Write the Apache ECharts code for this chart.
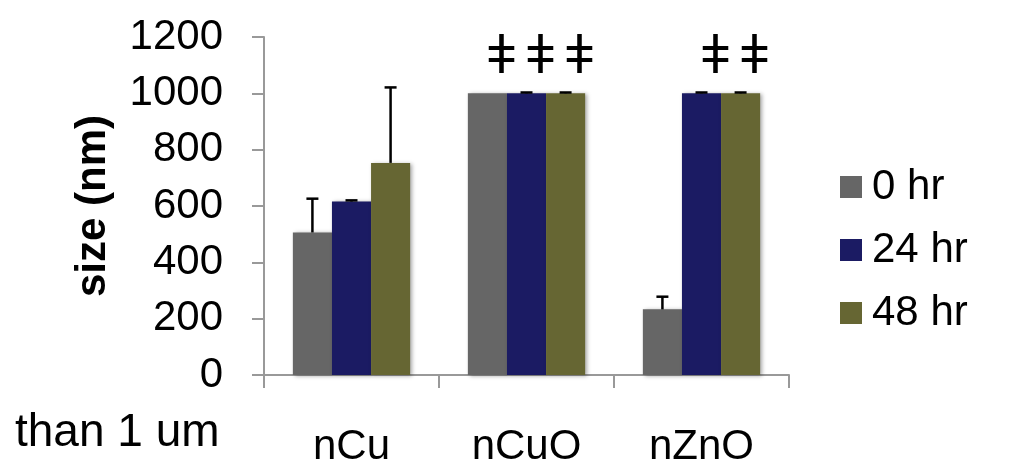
<!DOCTYPE html>
<html>
<head>
<meta charset="utf-8">
<script src="https://cdn.jsdelivr.net/npm/echarts@6/dist/echarts.min.js"></script>
<style>
  html, body { margin: 0; padding: 0; background: #fff; }
  #chart { width: 1017px; height: 464px; }
</style>
</head>
<body>
<div id="chart"></div>
<script>
const categories = ["nCu", "nCuO", "nZnO"];
const seriesNames = ["0 hr", "24 hr", "48 hr"];
const colors = ["#666666", "#1b1b63", "#666633"];

// mean size (nm) per time point
const values0 = [506, 1000, 233];
const values24 = [616, 1000, 1000];
const values48 = [753, 1000, 1000];

// upper error (nm)
const errors0 = [120, 0, 45];
const errors24 = [4, 3, 3];
const errors48 = [268, 3, 3];

// significance marks above bars
const marks0 = ["", "ǂ", ""];
const marks24 = ["", "ǂ", "ǂ"];
const marks48 = ["", "ǂ", "ǂ"];

const yTicks = [0, 200, 400, 600, 800, 1000, 1200];

const font = "'Liberation Sans', Arial, sans-serif";
const allValues = [values0, values24, values48];
const allErrors = [errors0, errors24, errors48];
const allMarks = [marks0, marks24, marks48];

const chart = echarts.init(document.getElementById("chart"), null, { renderer: "canvas" });

const CAT_GAP = 0.33;

const barSeries = seriesNames.map((name, s) => ({
    name: name,
    type: "bar",
    barGap: "0%",
    barCategoryGap: CAT_GAP * 100 + "%",
    itemStyle: {
        color: colors[s],
        shadowColor: "rgba(0,0,0,0.35)",
        shadowBlur: 4,
        shadowOffsetX: 2,
        shadowOffsetY: 1,
    },
    label: {
        show: true,
        position: "top",
        offset: [14, -3],
        fontFamily: font,
        fontSize: 54,
        color: "#000",
        formatter: (p) => allMarks[s][p.dataIndex],
    },
    data: allValues[s],
    z: 2,
}));

// one-sided error bars, drawn on top of each bar
const errorSeries = seriesNames.map((name, s) => ({
    type: "custom",
    name: name + " err",
    silent: true,
    z: 5,
    renderItem: (params, api) => {
        const idx = api.value(0);
        const mean = api.value(1);
        const err = api.value(2);
        if (!err) return null;
        const base = api.coord([idx, mean]);
        const top = api.coord([idx, mean + err]);
        const band = api.size([1, 0])[0];
        const barW = (band * (1 - CAT_GAP)) / 3;
        const x = base[0] + (s - 1) * barW;
        const capHalf = 6;
        return {
            type: "group",
            children: [
                {
                    type: "line",
                    shape: { x1: x, y1: base[1], x2: x, y2: top[1] },
                    style: { stroke: "#000", lineWidth: 2.5 },
                },
                {
                    type: "line",
                    shape: { x1: x - capHalf, y1: top[1], x2: x + capHalf, y2: top[1] },
                    style: { stroke: "#000", lineWidth: 2.5 },
                },
            ],
        };
    },
    encode: { x: 0, y: 1 },
    data: categories.map((c, i) => [i, allValues[s][i], allErrors[s][i]]),
}));

const option = {
    animation: false,
    backgroundColor: "#fff",
    title: {
        text: "than 1 um",
        left: 10,
        top: 405,
        textStyle: { fontFamily: font, fontSize: 46, fontWeight: "normal", color: "#000" },
    },
    legend: {
        orient: "vertical",
        left: 835,
        top: 161,
        icon: "rect",
        itemWidth: 22,
        itemHeight: 22,
        itemGap: 21,
        data: seriesNames,
        textStyle: { fontFamily: font, fontSize: 42, color: "#000", padding: [0, 0, 0, 5] },
    },
    grid: { left: 264, right: 228, top: 37, bottom: 89, containLabel: false, outerBoundsMode: "none" },
    xAxis: {
        type: "category",
        data: categories,
        axisLine: { lineStyle: { color: "#999", width: 2 } },
        axisTick: { show: true, length: 13, lineStyle: { color: "#999", width: 2 } },
        axisLabel: { margin: 51, fontFamily: font, fontSize: 42, color: "#000" },
    },
    yAxis: {
        type: "value",
        min: 0,
        max: 1200,
        interval: 200,
        name: "size (nm)",
        nameLocation: "middle",
        nameGap: 150,
        nameTextStyle: { fontFamily: font, fontSize: 42, fontWeight: "bold", color: "#000" },
        axisLine: { show: true, lineStyle: { color: "#999", width: 2 } },
        axisTick: { show: true, length: 12, lineStyle: { color: "#999", width: 2 } },
        splitLine: { show: false },
        axisLabel: {
            margin: 41,
            fontFamily: font,
            fontSize: 42,
            color: "#000",
            formatter: (v) => (yTicks.includes(v) ? String(v) : ""),
        },
    },
    series: [...barSeries, ...errorSeries],
};

chart.setOption(option);
</script>
</body>
</html>
